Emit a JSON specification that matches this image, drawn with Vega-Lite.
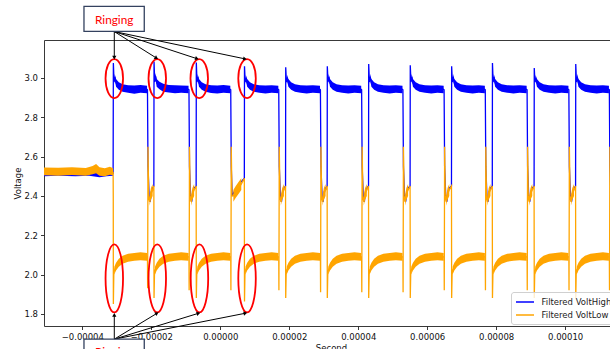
{
  "$schema": "https://vega.github.io/schema/vega-lite/v6.json",
  "width": 566,
  "height": 286,
  "autosize": {"type": "none"},
  "padding": {"left": 44, "top": 40, "right": 0, "bottom": 23},
  "background": "white",
  "title": {"text": "CAN Message Frame Voltage", "font": "DejaVu Sans", "fontSize": 10.2, "fontWeight": "normal", "color": "#111", "baseline": "alphabetic", "offset": 4.3, "dx": 3.8, "anchor": "middle"},
  "datasets": {
    "high": [
      {"t":-52,"v":2.512,"lo":2.5,"hi":2.524},
      {"t":-47,"v":2.515,"lo":2.502,"hi":2.527},
      {"t":-42,"v":2.513,"lo":2.5,"hi":2.525},
      {"t":-38,"v":2.516,"lo":2.503,"hi":2.528},
      {"t":-35,"v":2.51,"lo":2.495,"hi":2.524},
      {"t":-33,"v":2.514,"lo":2.5,"hi":2.527},
      {"t":-31.06,"v":2.515,"lo":2.503,"hi":2.527},
      {"t":-30.99,"v":3.076},
      {"t":-30.79,"v":2.98,"lo":2.97,"hi":2.99},
      {"t":-30.59,"v":3.005,"lo":2.99,"hi":3.02},
      {"t":-30.21,"v":2.975,"lo":2.955,"hi":2.995},
      {"t":-29.41,"v":2.96,"lo":2.94,"hi":2.978},
      {"t":-28.31,"v":2.95,"lo":2.93,"hi":2.968},
      {"t":-26.71,"v":2.945,"lo":2.925,"hi":2.963},
      {"t":-24.91,"v":2.943,"lo":2.92,"hi":2.962},
      {"t":-23.11,"v":2.945,"lo":2.925,"hi":2.964},
      {"t":-21.22,"v":2.942,"lo":2.922,"hi":2.96},
      {"t":-21.1,"v":2.94},
      {"t":-20.95,"v":2.55},
      {"t":-20.6,"v":2.39},
      {"t":-20.3,"v":2.37},
      {"t":-20,"v":2.42},
      {"t":-19.6,"v":2.44},
      {"t":-19.25,"v":2.45},
      {"t":-19.2,"v":3.084},
      {"t":-19,"v":2.98,"lo":2.97,"hi":2.99},
      {"t":-18.8,"v":3.01,"lo":2.995,"hi":3.025},
      {"t":-18.42,"v":2.975,"lo":2.955,"hi":2.995},
      {"t":-17.62,"v":2.962,"lo":2.942,"hi":2.98},
      {"t":-16.52,"v":2.95,"lo":2.93,"hi":2.97},
      {"t":-14.92,"v":2.946,"lo":2.926,"hi":2.964},
      {"t":-13.12,"v":2.944,"lo":2.922,"hi":2.963},
      {"t":-11.32,"v":2.945,"lo":2.925,"hi":2.962},
      {"t":-9.19,"v":2.942,"lo":2.922,"hi":2.96},
      {"t":-9.07,"v":2.94},
      {"t":-8.92,"v":2.55},
      {"t":-8.57,"v":2.39},
      {"t":-8.27,"v":2.37},
      {"t":-7.97,"v":2.42},
      {"t":-7.57,"v":2.44},
      {"t":-6.99,"v":2.45},
      {"t":-6.94,"v":3.079},
      {"t":-6.74,"v":2.98,"lo":2.97,"hi":2.99},
      {"t":-6.54,"v":3.005,"lo":2.99,"hi":3.02},
      {"t":-6.16,"v":2.975,"lo":2.955,"hi":2.995},
      {"t":-5.36,"v":2.96,"lo":2.94,"hi":2.978},
      {"t":-4.26,"v":2.95,"lo":2.93,"hi":2.968},
      {"t":-2.66,"v":2.945,"lo":2.924,"hi":2.963},
      {"t":-0.86,"v":2.943,"lo":2.921,"hi":2.962},
      {"t":0.94,"v":2.945,"lo":2.925,"hi":2.964},
      {"t":2.92,"v":2.942,"lo":2.922,"hi":2.96},
      {"t":3.04,"v":2.94},
      {"t":3.19,"v":2.55},
      {"t":3.45,"v":2.4},
      {"t":4,"v":2.42},
      {"t":5,"v":2.45},
      {"t":6,"v":2.47},
      {"t":6.98,"v":2.49},
      {"t":7.03,"v":3.059},
      {"t":7.23,"v":2.98,"lo":2.97,"hi":2.99},
      {"t":7.43,"v":3.0,"lo":2.985,"hi":3.015},
      {"t":7.81,"v":2.975,"lo":2.955,"hi":2.995},
      {"t":8.61,"v":2.96,"lo":2.94,"hi":2.978},
      {"t":9.71,"v":2.95,"lo":2.93,"hi":2.968},
      {"t":11.31,"v":2.945,"lo":2.925,"hi":2.963},
      {"t":13.11,"v":2.943,"lo":2.921,"hi":2.962},
      {"t":14.91,"v":2.945,"lo":2.925,"hi":2.963},
      {"t":16.84,"v":2.942,"lo":2.922,"hi":2.96},
      {"t":16.96,"v":2.94},
      {"t":17.11,"v":2.55},
      {"t":17.46,"v":2.39},
      {"t":17.76,"v":2.37},
      {"t":18.06,"v":2.42},
      {"t":18.46,"v":2.44},
      {"t":18.93,"v":2.45},
      {"t":18.98,"v":3.054},
      {"t":19.18,"v":2.98,"lo":2.97,"hi":2.99},
      {"t":19.38,"v":3.0,"lo":2.985,"hi":3.015},
      {"t":19.76,"v":2.975,"lo":2.955,"hi":2.995},
      {"t":20.56,"v":2.96,"lo":2.94,"hi":2.978},
      {"t":21.66,"v":2.95,"lo":2.93,"hi":2.968},
      {"t":23.26,"v":2.945,"lo":2.925,"hi":2.963},
      {"t":25.06,"v":2.943,"lo":2.921,"hi":2.962},
      {"t":26.86,"v":2.945,"lo":2.925,"hi":2.963},
      {"t":28.92,"v":2.942,"lo":2.922,"hi":2.96},
      {"t":29.04,"v":2.94},
      {"t":29.19,"v":2.55},
      {"t":29.54,"v":2.39},
      {"t":29.84,"v":2.37},
      {"t":30.14,"v":2.42},
      {"t":30.54,"v":2.44},
      {"t":30.99,"v":2.45},
      {"t":31.04,"v":3.059},
      {"t":31.24,"v":2.98,"lo":2.97,"hi":2.99},
      {"t":31.44,"v":3.005,"lo":2.99,"hi":3.02},
      {"t":31.82,"v":2.975,"lo":2.955,"hi":2.995},
      {"t":32.62,"v":2.96,"lo":2.94,"hi":2.978},
      {"t":33.72,"v":2.95,"lo":2.93,"hi":2.968},
      {"t":35.32,"v":2.945,"lo":2.925,"hi":2.963},
      {"t":37.12,"v":2.943,"lo":2.921,"hi":2.962},
      {"t":38.92,"v":2.945,"lo":2.925,"hi":2.963},
      {"t":40.87,"v":2.942,"lo":2.922,"hi":2.96},
      {"t":40.99,"v":2.94},
      {"t":41.14,"v":2.55},
      {"t":41.49,"v":2.39},
      {"t":41.79,"v":2.37},
      {"t":42.09,"v":2.42},
      {"t":42.49,"v":2.44},
      {"t":42.99,"v":2.45},
      {"t":43.04,"v":3.071},
      {"t":43.24,"v":2.98,"lo":2.97,"hi":2.99},
      {"t":43.44,"v":3.005,"lo":2.99,"hi":3.02},
      {"t":43.82,"v":2.975,"lo":2.955,"hi":2.995},
      {"t":44.62,"v":2.96,"lo":2.94,"hi":2.978},
      {"t":45.72,"v":2.95,"lo":2.93,"hi":2.968},
      {"t":47.32,"v":2.945,"lo":2.925,"hi":2.963},
      {"t":49.12,"v":2.943,"lo":2.921,"hi":2.962},
      {"t":50.92,"v":2.945,"lo":2.925,"hi":2.963},
      {"t":52.84,"v":2.942,"lo":2.922,"hi":2.96},
      {"t":52.96,"v":2.94},
      {"t":53.11,"v":2.55},
      {"t":53.46,"v":2.39},
      {"t":53.76,"v":2.37},
      {"t":54.06,"v":2.42},
      {"t":54.46,"v":2.44},
      {"t":55.04,"v":2.45},
      {"t":55.09,"v":3.064},
      {"t":55.29,"v":2.98,"lo":2.97,"hi":2.99},
      {"t":55.49,"v":3.005,"lo":2.99,"hi":3.02},
      {"t":55.87,"v":2.975,"lo":2.955,"hi":2.995},
      {"t":56.67,"v":2.96,"lo":2.94,"hi":2.978},
      {"t":57.77,"v":2.95,"lo":2.93,"hi":2.968},
      {"t":59.37,"v":2.945,"lo":2.925,"hi":2.963},
      {"t":61.17,"v":2.943,"lo":2.921,"hi":2.962},
      {"t":62.97,"v":2.945,"lo":2.925,"hi":2.963},
      {"t":64.78,"v":2.942,"lo":2.922,"hi":2.96},
      {"t":64.9,"v":2.94},
      {"t":65.05,"v":2.55},
      {"t":65.4,"v":2.39},
      {"t":65.7,"v":2.37},
      {"t":66.0,"v":2.42},
      {"t":66.4,"v":2.44},
      {"t":67.04,"v":2.45},
      {"t":67.09,"v":3.059},
      {"t":67.29,"v":2.98,"lo":2.97,"hi":2.99},
      {"t":67.49,"v":3.005,"lo":2.99,"hi":3.02},
      {"t":67.87,"v":2.975,"lo":2.955,"hi":2.995},
      {"t":68.67,"v":2.96,"lo":2.94,"hi":2.978},
      {"t":69.77,"v":2.95,"lo":2.93,"hi":2.968},
      {"t":71.37,"v":2.945,"lo":2.925,"hi":2.963},
      {"t":73.17,"v":2.943,"lo":2.921,"hi":2.962},
      {"t":74.97,"v":2.945,"lo":2.925,"hi":2.963},
      {"t":76.72,"v":2.942,"lo":2.922,"hi":2.96},
      {"t":76.84,"v":2.94},
      {"t":76.99,"v":2.55},
      {"t":77.34,"v":2.39},
      {"t":77.64,"v":2.37},
      {"t":77.94,"v":2.42},
      {"t":78.34,"v":2.44},
      {"t":78.87,"v":2.45},
      {"t":78.92,"v":3.076},
      {"t":79.12,"v":2.98,"lo":2.97,"hi":2.99},
      {"t":79.32,"v":3.005,"lo":2.99,"hi":3.02},
      {"t":79.7,"v":2.975,"lo":2.955,"hi":2.995},
      {"t":80.5,"v":2.96,"lo":2.94,"hi":2.978},
      {"t":81.6,"v":2.95,"lo":2.93,"hi":2.968},
      {"t":83.2,"v":2.945,"lo":2.925,"hi":2.963},
      {"t":85.0,"v":2.943,"lo":2.921,"hi":2.962},
      {"t":86.8,"v":2.945,"lo":2.925,"hi":2.963},
      {"t":88.84,"v":2.942,"lo":2.922,"hi":2.96},
      {"t":88.96,"v":2.94},
      {"t":89.11,"v":2.55},
      {"t":89.46,"v":2.39},
      {"t":89.76,"v":2.37},
      {"t":90.06,"v":2.42},
      {"t":90.46,"v":2.44},
      {"t":90.99,"v":2.45},
      {"t":91.04,"v":3.051},
      {"t":91.24,"v":2.98,"lo":2.97,"hi":2.99},
      {"t":91.44,"v":3.0,"lo":2.985,"hi":3.015},
      {"t":91.82,"v":2.975,"lo":2.955,"hi":2.995},
      {"t":92.62,"v":2.96,"lo":2.94,"hi":2.978},
      {"t":93.72,"v":2.95,"lo":2.93,"hi":2.968},
      {"t":95.32,"v":2.945,"lo":2.925,"hi":2.963},
      {"t":97.12,"v":2.943,"lo":2.921,"hi":2.962},
      {"t":98.92,"v":2.945,"lo":2.925,"hi":2.963},
      {"t":100.95,"v":2.942,"lo":2.922,"hi":2.96},
      {"t":101.07,"v":2.94},
      {"t":101.22,"v":2.55},
      {"t":101.57,"v":2.39},
      {"t":101.87,"v":2.37},
      {"t":102.17,"v":2.42},
      {"t":102.57,"v":2.44},
      {"t":103.02,"v":2.45},
      {"t":103.07,"v":3.071},
      {"t":103.27,"v":2.98,"lo":2.97,"hi":2.99},
      {"t":103.47,"v":3.005,"lo":2.99,"hi":3.02},
      {"t":103.85,"v":2.975,"lo":2.955,"hi":2.995},
      {"t":104.65,"v":2.96,"lo":2.94,"hi":2.978},
      {"t":105.75,"v":2.95,"lo":2.93,"hi":2.968},
      {"t":107.35,"v":2.945,"lo":2.925,"hi":2.963},
      {"t":109.15,"v":2.943,"lo":2.921,"hi":2.962},
      {"t":110.95,"v":2.945,"lo":2.925,"hi":2.963},
      {"t":112.69,"v":2.942,"lo":2.922,"hi":2.96},
      {"t":112.81,"v":2.94},
      {"t":112.96,"v":2.55},
      {"t":113.31,"v":2.39},
      {"t":113.61,"v":2.37}
    ],
    "low": [
      {"t":-52,"v":2.525,"lo":2.505,"hi":2.545},
      {"t":-47,"v":2.522,"lo":2.503,"hi":2.543},
      {"t":-43,"v":2.526,"lo":2.506,"hi":2.546},
      {"t":-39,"v":2.522,"lo":2.502,"hi":2.542},
      {"t":-37,"v":2.53,"lo":2.51,"hi":2.552},
      {"t":-36,"v":2.538,"lo":2.515,"hi":2.562},
      {"t":-35,"v":2.522,"lo":2.502,"hi":2.545},
      {"t":-33.5,"v":2.52,"lo":2.5,"hi":2.54},
      {"t":-32,"v":2.528,"lo":2.508,"hi":2.548},
      {"t":-31.06,"v":2.52,"lo":2.505,"hi":2.54},
      {"t":-31.02,"v":2.4},
      {"t":-30.99,"v":1.85},
      {"t":-30.86,"v":2.0},
      {"t":-30.71,"v":2.02,"lo":2.0,"hi":2.04},
      {"t":-30.21,"v":2.04,"lo":2.02,"hi":2.06},
      {"t":-29.41,"v":2.06,"lo":2.04,"hi":2.08},
      {"t":-28.31,"v":2.075,"lo":2.055,"hi":2.095},
      {"t":-26.71,"v":2.085,"lo":2.065,"hi":2.105},
      {"t":-24.91,"v":2.09,"lo":2.07,"hi":2.11},
      {"t":-23.11,"v":2.092,"lo":2.072,"hi":2.113},
      {"t":-21.22,"v":2.09,"lo":2.07,"hi":2.11},
      {"t":-21.1,"v":2.09},
      {"t":-21.05,"v":1.93},
      {"t":-20.95,"v":2.65},
      {"t":-20.75,"v":2.4},
      {"t":-20.5,"v":2.37,"lo":2.35,"hi":2.4},
      {"t":-20.1,"v":2.41,"lo":2.38,"hi":2.44},
      {"t":-19.6,"v":2.43,"lo":2.4,"hi":2.46},
      {"t":-19.25,"v":2.45},
      {"t":-19.2,"v":1.88},
      {"t":-19.07,"v":2.0},
      {"t":-18.92,"v":2.02,"lo":2.0,"hi":2.04},
      {"t":-18.42,"v":2.04,"lo":2.02,"hi":2.06},
      {"t":-17.62,"v":2.06,"lo":2.04,"hi":2.08},
      {"t":-16.52,"v":2.075,"lo":2.055,"hi":2.095},
      {"t":-14.92,"v":2.085,"lo":2.065,"hi":2.105},
      {"t":-13.12,"v":2.09,"lo":2.07,"hi":2.11},
      {"t":-11.32,"v":2.092,"lo":2.072,"hi":2.113},
      {"t":-9.19,"v":2.09,"lo":2.07,"hi":2.11},
      {"t":-9.07,"v":2.09},
      {"t":-9.02,"v":1.92},
      {"t":-8.92,"v":2.65},
      {"t":-8.72,"v":2.4},
      {"t":-8.47,"v":2.37,"lo":2.35,"hi":2.4},
      {"t":-8.07,"v":2.41,"lo":2.38,"hi":2.44},
      {"t":-7.57,"v":2.43,"lo":2.4,"hi":2.46},
      {"t":-6.99,"v":2.45},
      {"t":-6.94,"v":1.88},
      {"t":-6.81,"v":2.0},
      {"t":-6.66,"v":2.02,"lo":2.0,"hi":2.04},
      {"t":-6.16,"v":2.04,"lo":2.02,"hi":2.06},
      {"t":-5.36,"v":2.06,"lo":2.04,"hi":2.08},
      {"t":-4.26,"v":2.075,"lo":2.055,"hi":2.095},
      {"t":-2.66,"v":2.085,"lo":2.065,"hi":2.105},
      {"t":-0.86,"v":2.09,"lo":2.07,"hi":2.11},
      {"t":0.94,"v":2.092,"lo":2.072,"hi":2.113},
      {"t":2.92,"v":2.09,"lo":2.07,"hi":2.11},
      {"t":3.04,"v":2.09},
      {"t":3.09,"v":1.92},
      {"t":3.19,"v":2.65},
      {"t":3.39,"v":2.4},
      {"t":3.8,"v":2.4,"lo":2.37,"hi":2.43},
      {"t":4.5,"v":2.42,"lo":2.39,"hi":2.45},
      {"t":5.3,"v":2.44,"lo":2.41,"hi":2.47},
      {"t":6.1,"v":2.46,"lo":2.43,"hi":2.49},
      {"t":6.98,"v":2.49},
      {"t":7.03,"v":1.863},
      {"t":7.16,"v":2.0},
      {"t":7.31,"v":2.02,"lo":2.0,"hi":2.04},
      {"t":7.81,"v":2.04,"lo":2.02,"hi":2.06},
      {"t":8.61,"v":2.06,"lo":2.04,"hi":2.08},
      {"t":9.71,"v":2.075,"lo":2.055,"hi":2.095},
      {"t":11.31,"v":2.085,"lo":2.065,"hi":2.105},
      {"t":13.11,"v":2.09,"lo":2.07,"hi":2.11},
      {"t":14.91,"v":2.092,"lo":2.072,"hi":2.113},
      {"t":16.84,"v":2.09,"lo":2.07,"hi":2.11},
      {"t":16.96,"v":2.09},
      {"t":17.01,"v":1.92},
      {"t":17.11,"v":2.65},
      {"t":17.31,"v":2.4},
      {"t":17.56,"v":2.37,"lo":2.35,"hi":2.4},
      {"t":17.96,"v":2.41,"lo":2.38,"hi":2.44},
      {"t":18.46,"v":2.43,"lo":2.4,"hi":2.46},
      {"t":18.93,"v":2.45},
      {"t":18.98,"v":1.88},
      {"t":19.11,"v":2.0},
      {"t":19.26,"v":2.02,"lo":2.0,"hi":2.04},
      {"t":19.76,"v":2.04,"lo":2.02,"hi":2.06},
      {"t":20.56,"v":2.06,"lo":2.04,"hi":2.08},
      {"t":21.66,"v":2.075,"lo":2.055,"hi":2.095},
      {"t":23.26,"v":2.085,"lo":2.065,"hi":2.105},
      {"t":25.06,"v":2.09,"lo":2.07,"hi":2.11},
      {"t":26.86,"v":2.092,"lo":2.072,"hi":2.113},
      {"t":28.92,"v":2.09,"lo":2.07,"hi":2.11},
      {"t":29.04,"v":2.09},
      {"t":29.09,"v":1.91},
      {"t":29.19,"v":2.65},
      {"t":29.39,"v":2.4},
      {"t":29.64,"v":2.37,"lo":2.35,"hi":2.4},
      {"t":30.04,"v":2.41,"lo":2.38,"hi":2.44},
      {"t":30.54,"v":2.43,"lo":2.4,"hi":2.46},
      {"t":30.99,"v":2.45},
      {"t":31.04,"v":1.88},
      {"t":31.17,"v":2.0},
      {"t":31.32,"v":2.02,"lo":2.0,"hi":2.04},
      {"t":31.82,"v":2.04,"lo":2.02,"hi":2.06},
      {"t":32.62,"v":2.06,"lo":2.04,"hi":2.08},
      {"t":33.72,"v":2.075,"lo":2.055,"hi":2.095},
      {"t":35.32,"v":2.085,"lo":2.065,"hi":2.105},
      {"t":37.12,"v":2.09,"lo":2.07,"hi":2.11},
      {"t":38.92,"v":2.092,"lo":2.072,"hi":2.113},
      {"t":40.87,"v":2.09,"lo":2.07,"hi":2.11},
      {"t":40.99,"v":2.09},
      {"t":41.04,"v":1.91},
      {"t":41.14,"v":2.65},
      {"t":41.34,"v":2.4},
      {"t":41.59,"v":2.37,"lo":2.35,"hi":2.4},
      {"t":41.99,"v":2.41,"lo":2.38,"hi":2.44},
      {"t":42.49,"v":2.43,"lo":2.4,"hi":2.46},
      {"t":42.99,"v":2.45},
      {"t":43.04,"v":1.88},
      {"t":43.17,"v":2.0},
      {"t":43.32,"v":2.02,"lo":2.0,"hi":2.04},
      {"t":43.82,"v":2.04,"lo":2.02,"hi":2.06},
      {"t":44.62,"v":2.06,"lo":2.04,"hi":2.08},
      {"t":45.72,"v":2.075,"lo":2.055,"hi":2.095},
      {"t":47.32,"v":2.085,"lo":2.065,"hi":2.105},
      {"t":49.12,"v":2.09,"lo":2.07,"hi":2.11},
      {"t":50.92,"v":2.092,"lo":2.072,"hi":2.113},
      {"t":52.84,"v":2.09,"lo":2.07,"hi":2.11},
      {"t":52.96,"v":2.09},
      {"t":53.01,"v":1.91},
      {"t":53.11,"v":2.65},
      {"t":53.31,"v":2.4},
      {"t":53.56,"v":2.37,"lo":2.35,"hi":2.4},
      {"t":53.96,"v":2.41,"lo":2.38,"hi":2.44},
      {"t":54.46,"v":2.43,"lo":2.4,"hi":2.46},
      {"t":55.04,"v":2.45},
      {"t":55.09,"v":1.88},
      {"t":55.22,"v":2.0},
      {"t":55.37,"v":2.02,"lo":2.0,"hi":2.04},
      {"t":55.87,"v":2.04,"lo":2.02,"hi":2.06},
      {"t":56.67,"v":2.06,"lo":2.04,"hi":2.08},
      {"t":57.77,"v":2.075,"lo":2.055,"hi":2.095},
      {"t":59.37,"v":2.085,"lo":2.065,"hi":2.105},
      {"t":61.17,"v":2.09,"lo":2.07,"hi":2.11},
      {"t":62.97,"v":2.092,"lo":2.072,"hi":2.113},
      {"t":64.78,"v":2.09,"lo":2.07,"hi":2.11},
      {"t":64.9,"v":2.09},
      {"t":64.95,"v":1.92},
      {"t":65.05,"v":2.65},
      {"t":65.25,"v":2.4},
      {"t":65.5,"v":2.37,"lo":2.35,"hi":2.4},
      {"t":65.9,"v":2.41,"lo":2.38,"hi":2.44},
      {"t":66.4,"v":2.43,"lo":2.4,"hi":2.46},
      {"t":67.04,"v":2.45},
      {"t":67.09,"v":1.88},
      {"t":67.22,"v":2.0},
      {"t":67.37,"v":2.02,"lo":2.0,"hi":2.04},
      {"t":67.87,"v":2.04,"lo":2.02,"hi":2.06},
      {"t":68.67,"v":2.06,"lo":2.04,"hi":2.08},
      {"t":69.77,"v":2.075,"lo":2.055,"hi":2.095},
      {"t":71.37,"v":2.085,"lo":2.065,"hi":2.105},
      {"t":73.17,"v":2.09,"lo":2.07,"hi":2.11},
      {"t":74.97,"v":2.092,"lo":2.072,"hi":2.113},
      {"t":76.72,"v":2.09,"lo":2.07,"hi":2.11},
      {"t":76.84,"v":2.09},
      {"t":76.89,"v":1.92},
      {"t":76.99,"v":2.65},
      {"t":77.19,"v":2.4},
      {"t":77.44,"v":2.37,"lo":2.35,"hi":2.4},
      {"t":77.84,"v":2.41,"lo":2.38,"hi":2.44},
      {"t":78.34,"v":2.43,"lo":2.4,"hi":2.46},
      {"t":78.87,"v":2.45},
      {"t":78.92,"v":1.88},
      {"t":79.05,"v":2.0},
      {"t":79.2,"v":2.02,"lo":2.0,"hi":2.04},
      {"t":79.7,"v":2.04,"lo":2.02,"hi":2.06},
      {"t":80.5,"v":2.06,"lo":2.04,"hi":2.08},
      {"t":81.6,"v":2.075,"lo":2.055,"hi":2.095},
      {"t":83.2,"v":2.085,"lo":2.065,"hi":2.105},
      {"t":85.0,"v":2.09,"lo":2.07,"hi":2.11},
      {"t":86.8,"v":2.092,"lo":2.072,"hi":2.113},
      {"t":88.84,"v":2.09,"lo":2.07,"hi":2.11},
      {"t":88.96,"v":2.09},
      {"t":89.01,"v":1.92},
      {"t":89.11,"v":2.65},
      {"t":89.31,"v":2.4},
      {"t":89.56,"v":2.37,"lo":2.35,"hi":2.4},
      {"t":89.96,"v":2.41,"lo":2.38,"hi":2.44},
      {"t":90.46,"v":2.43,"lo":2.4,"hi":2.46},
      {"t":90.99,"v":2.45},
      {"t":91.04,"v":1.88},
      {"t":91.17,"v":2.0},
      {"t":91.32,"v":2.02,"lo":2.0,"hi":2.04},
      {"t":91.82,"v":2.04,"lo":2.02,"hi":2.06},
      {"t":92.62,"v":2.06,"lo":2.04,"hi":2.08},
      {"t":93.72,"v":2.075,"lo":2.055,"hi":2.095},
      {"t":95.32,"v":2.085,"lo":2.065,"hi":2.105},
      {"t":97.12,"v":2.09,"lo":2.07,"hi":2.11},
      {"t":98.92,"v":2.092,"lo":2.072,"hi":2.113},
      {"t":100.95,"v":2.09,"lo":2.07,"hi":2.11},
      {"t":101.07,"v":2.09},
      {"t":101.12,"v":1.92},
      {"t":101.22,"v":2.65},
      {"t":101.42,"v":2.4},
      {"t":101.67,"v":2.37,"lo":2.35,"hi":2.4},
      {"t":102.07,"v":2.41,"lo":2.38,"hi":2.44},
      {"t":102.57,"v":2.43,"lo":2.4,"hi":2.46},
      {"t":103.02,"v":2.45},
      {"t":103.07,"v":1.88},
      {"t":103.2,"v":2.0},
      {"t":103.35,"v":2.02,"lo":2.0,"hi":2.04},
      {"t":103.85,"v":2.04,"lo":2.02,"hi":2.06},
      {"t":104.65,"v":2.06,"lo":2.04,"hi":2.08},
      {"t":105.75,"v":2.075,"lo":2.055,"hi":2.095},
      {"t":107.35,"v":2.085,"lo":2.065,"hi":2.105},
      {"t":109.15,"v":2.09,"lo":2.07,"hi":2.11},
      {"t":110.95,"v":2.092,"lo":2.072,"hi":2.113},
      {"t":112.69,"v":2.09,"lo":2.07,"hi":2.11},
      {"t":112.81,"v":2.09},
      {"t":112.86,"v":1.92},
      {"t":112.96,"v":2.65},
      {"t":113.16,"v":2.4},
      {"t":113.6,"v":2.38}
    ],
    "ellTop": [
      {"t":-30.72,"v":2.997},
      {"t":-18.26,"v":2.997},
      {"t":-6.09,"v":2.997},
      {"t":7.77,"v":2.997}
    ],
    "ellBot": [
      {"t":-30.72,"v":1.98},
      {"t":-18.26,"v":1.98},
      {"t":-6.03,"v":1.98},
      {"t":7.77,"v":1.98}
    ],
    "arrows": [
      {"t1":-30.72,"v1":3.236,"t2":-30.72,"v2":3.103},
      {"t1":-30.72,"v1":3.236,"t2":-18.49,"v2":3.101},
      {"t1":-30.72,"v1":3.236,"t2":-6.75,"v2":3.098},
      {"t1":-30.72,"v1":3.236,"t2":7.16,"v2":3.097},
      {"t1":-30.72,"v1":1.671,"t2":-30.72,"v2":1.795},
      {"t1":-30.72,"v1":1.671,"t2":-18.35,"v2":1.8025},
      {"t1":-30.72,"v1":1.671,"t2":-6.32,"v2":1.8025},
      {"t1":-30.72,"v1":1.671,"t2":7.3,"v2":1.803}
    ],
    "boxes": [
      {"t1":-39.51,"t2":-22.03,"v1":3.364,"v2":3.237},
      {"t1":-39.51,"t2":-22.03,"v1":1.671,"v2":1.5}
    ],
    "labels": [
      {"t":-30.75,"v":3.297,"text":"Ringing"},
      {"t":-30.75,"v":1.604,"text":"Ringing"}
    ]
  },
  "resolve": {"axis": {"x": "independent", "y": "independent"}},
  "layer": [
    {
      "data": {"name": "high"},
      "mark": {"type": "area", "orient": "vertical", "color": "#0000ff", "opacity": 1, "clip": true, "invalid": "break-paths-show-domains"},
      "encoding": {
        "x": {"field": "t", "type": "quantitative", "scale": {"domain": [-51.1, 113.0], "nice": false, "zero": false},
              "axis": {"orient": "bottom", "values": [-40, -20, 0, 20, 40, 60, 80, 100], "labelExpr": "replace(format(datum.value / 1000000, '.5f'), '-', '\u2212')", "title": "Second", "labelPadding": 3, "titleX": 287, "titleY": 24.2, "titleBaseline": "alphabetic", "titleAlign": "center", "labelFlush": false, "labelOverlap": false}},
        "y": {"field": "lo", "type": "quantitative", "scale": {"domain": [1.738, 3.193], "nice": false, "zero": false},
              "axis": {"orient": "left", "values": [1.8, 2.0, 2.2, 2.4, 2.6, 2.8, 3.0], "format": ".1f", "title": "Voltage", "labelPadding": 3, "titleX": -24, "titleY": 143, "titleAngle": 270, "titleAlign": "center", "titleBaseline": "alphabetic", "labelFlush": false, "labelOverlap": false}},
        "y2": {"field": "hi"}
      }
    },
    {
      "data": {"name": "high"},
      "mark": {"type": "line", "strokeWidth": 1.3, "clip": true},
      "encoding": {
        "x": {"field": "t", "type": "quantitative", "axis": {"orient": "top", "labels": false, "ticks": false, "title": null}},
        "y": {"field": "v", "type": "quantitative", "axis": null},
        "color": {"datum": "Filtered VoltHigh", "type": "nominal", "scale": {"domain": ["Filtered VoltHigh", "Filtered VoltLow"], "range": ["#0000ff", "#ffa500"]}, "legend": {"title": null}}
      }
    },
    {
      "data": {"name": "low"},
      "mark": {"type": "area", "orient": "vertical", "color": "#ffa500", "opacity": 1, "clip": true, "invalid": "break-paths-show-domains"},
      "encoding": {
        "x": {"field": "t", "type": "quantitative", "axis": null},
        "y": {"field": "lo", "type": "quantitative", "axis": null},
        "y2": {"field": "hi"}
      }
    },
    {
      "data": {"name": "low"},
      "mark": {"type": "line", "strokeWidth": 1.3, "clip": true},
      "encoding": {
        "x": {"field": "t", "type": "quantitative", "axis": null},
        "y": {"field": "v", "type": "quantitative", "axis": null},
        "color": {"datum": "Filtered VoltLow", "type": "nominal", "legend": {"title": null}}
      }
    },
    {
      "data": {"name": "ellTop"},
      "mark": {"type": "point", "shape": "M 0.449 0 C 0.449 0.5523 0.248 1 0 1 C -0.248 1 -0.449 0.5523 -0.449 0 C -0.449 -0.5523 -0.248 -1 0 -1 C 0.248 -1 0.449 -0.5523 0.449 0 Z", "filled": false, "stroke": "#ff0000", "strokeWidth": 1.8, "size": 1521, "opacity": 1},
      "encoding": {
        "x": {"field": "t", "type": "quantitative", "axis": null},
        "y": {"field": "v", "type": "quantitative", "axis": null}
      }
    },
    {
      "data": {"name": "ellBot"},
      "mark": {"type": "point", "shape": "M 0.257 0 C 0.257 0.5523 0.142 1 0 1 C -0.142 1 -0.257 0.5523 -0.257 0 C -0.257 -0.5523 -0.142 -1 0 -1 C 0.142 -1 0.257 -0.5523 0.257 0 Z", "filled": false, "stroke": "#ff0000", "strokeWidth": 1.8, "size": 4624, "opacity": 1},
      "encoding": {
        "x": {"field": "t", "type": "quantitative", "axis": null},
        "y": {"field": "v", "type": "quantitative", "axis": null}
      }
    },
    {
      "data": {"name": "arrows"},
      "mark": {"type": "rule", "color": "#000000", "strokeWidth": 1},
      "encoding": {
        "x": {"field": "t1", "type": "quantitative", "axis": null},
        "y": {"field": "v1", "type": "quantitative", "axis": null},
        "x2": {"field": "t2"},
        "y2": {"field": "v2"}
      }
    },
    {
      "data": {"name": "arrows"},
      "mark": {"type": "point", "shape": "triangle-up", "filled": true, "color": "#000000", "size": 18, "opacity": 1, "angle": {"expr": "atan2(scale('x', datum.t2) - scale('x', datum.t1), scale('y', datum.v1) - scale('y', datum.v2)) * 180 / PI"}},
      "encoding": {
        "x": {"field": "t2", "type": "quantitative", "axis": null},
        "y": {"field": "v2", "type": "quantitative", "axis": null}
      }
    },
    {
      "data": {"name": "boxes"},
      "mark": {"type": "rect", "fill": "#ffffff", "stroke": "#34425f", "strokeWidth": 1.3},
      "encoding": {
        "x": {"field": "t1", "type": "quantitative", "axis": null},
        "x2": {"field": "t2"},
        "y": {"field": "v1", "type": "quantitative", "axis": null},
        "y2": {"field": "v2"}
      }
    },
    {
      "data": {"name": "labels"},
      "mark": {"type": "text", "font": "Lato", "fontSize": 11.8, "color": "#ff0000", "align": "center", "baseline": "middle"},
      "encoding": {
        "x": {"field": "t", "type": "quantitative", "axis": null},
        "y": {"field": "v", "type": "quantitative", "axis": null},
        "text": {"field": "text"}
      }
    }
  ],
  "config": {
    "view": {"stroke": null},
    "axis": {"labelFont": "DejaVu Sans", "titleFont": "DejaVu Sans", "labelFontSize": 8.5, "titleFontSize": 8.5, "titleFontWeight": "normal", "labelColor": "#111", "titleColor": "#111", "domainColor": "#222", "tickColor": "#222", "domainWidth": 0.9, "tickWidth": 0.9, "tickSize": 3.5, "grid": false},
    "legend": {"orient": "none", "legendX": 467, "legendY": 252, "symbolType": "M -1 0 L 2.6 0", "symbolSize": 100, "symbolStrokeWidth": 1.5, "symbolFillColor": "transparent", "labelFont": "DejaVu Sans", "labelFontSize": 8.5, "labelColor": "#222", "padding": 4, "fillColor": "rgba(255,255,255,0.8)", "strokeColor": "#d0d0d0", "cornerRadius": 2.5, "rowPadding": 2, "labelOffset": 14.5}
  }
}
